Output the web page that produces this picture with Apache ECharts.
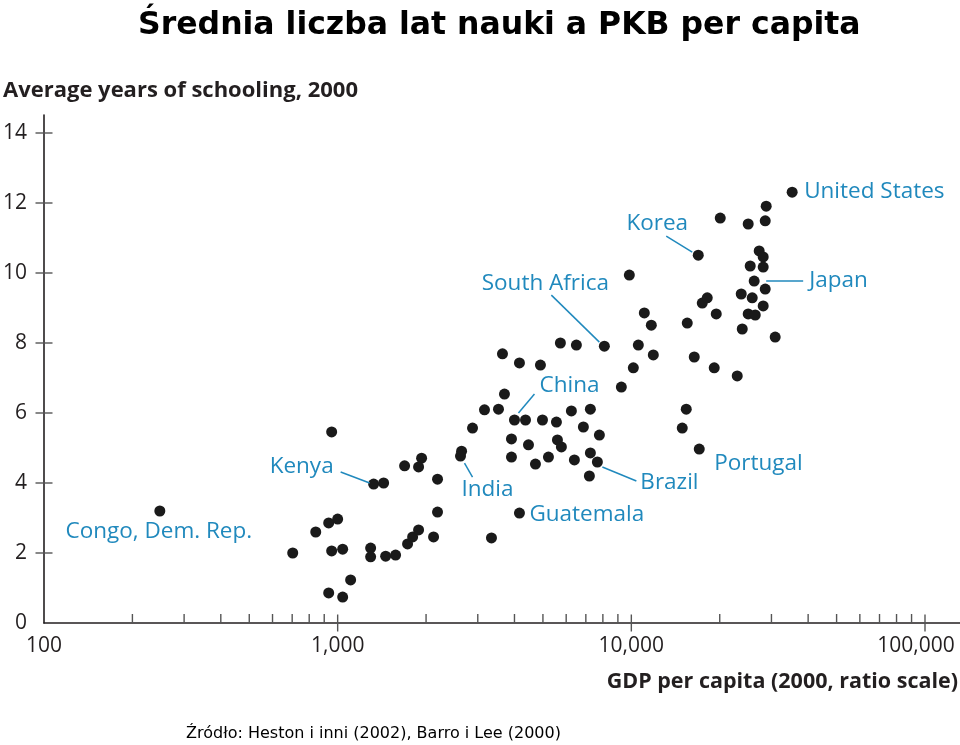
<!DOCTYPE html>
<html>
<head>
<meta charset="utf-8">
<script src="https://cdn.jsdelivr.net/npm/echarts@6/dist/echarts.min.js"></script>
<style>
html,body{margin:0;padding:0;background:#fff;}
#c{width:960px;height:745px;}
</style>
</head>
<body>
<div id="c"></div>
<script>
// GDP per capita (2000, PPP $) and average years of schooling (2000)
const gdp = [248, 703, 842, 932, 1000, 954, 1040, 1295, 1295, 1457, 1575, 1107, 932, 1040,
  1730, 1800, 1886, 2121, 2188, 1326, 1434, 2188, 954, 1690, 1931, 1886, 2642, 2620, 2879,
  3162, 3529, 3698, 3641, 4159, 4903, 4159, 3340, 4000, 4361, 4982, 5558, 6250, 7253, 6866,
  7784, 3907, 4464, 5602, 5779, 3907, 4715, 5221, 6399, 7253, 7662, 7196, 5734, 6500, 8094,
  10564, 11880, 10158, 9247, 9845, 11071, 11696, 15503, 16378, 19154, 15382, 14907, 17032,
  16900, 17440, 18135, 19460, 20080, 22940, 23860, 23670, 25000, 25000, 26420, 25400, 25800,
  26200, 27250, 28120, 28120, 28120, 28570, 28570, 28790, 30890, 35290];
const schooling = [3.2, 2.0, 2.6, 2.86, 2.97, 2.06, 2.11, 2.14, 1.89, 1.91, 1.94, 1.23, 0.86, 0.74,
  2.26, 2.46, 2.66, 2.46, 3.17, 3.97, 4.0, 4.11, 5.46, 4.49, 4.71, 4.46, 4.91, 4.77, 5.57,
  6.09, 6.11, 6.54, 7.69, 7.43, 7.37, 3.14, 2.43, 5.8, 5.8, 5.8, 5.74, 6.06, 6.11, 5.6,
  5.37, 5.26, 5.09, 5.23, 5.03, 4.74, 4.54, 4.74, 4.66, 4.86, 4.6, 4.2, 8.0, 7.94, 7.91,
  7.94, 7.66, 7.29, 6.74, 9.94, 8.86, 8.51, 8.57, 7.6, 7.29, 6.11, 5.57, 4.97,
  10.51, 9.14, 9.29, 8.83, 11.57, 7.06, 8.4, 9.4, 11.4, 8.83, 8.8, 10.2, 9.29,
  9.77, 10.63, 10.46, 10.17, 9.06, 9.54, 11.49, 11.91, 8.17, 12.31];
// Named countries and the index of their point in the arrays above
const labelNames = ['Congo, Dem. Rep.', 'Kenya', 'India', 'Guatemala', 'China', 'Brazil',
  'South Africa', 'Portugal', 'Korea', 'Japan', 'United States'];
const labelIndex = [0, 19, 27, 35, 37, 54, 58, 71, 72, 85, 94];
// Axis tick values
const yTicks = [0, 2, 4, 6, 8, 10, 12, 14];
const xMajorTicks = [100, 1000, 10000, 100000];
const xTickLabels = ['100', '1,000', '10,000', '100,000'];
const xMinorTicks = [200, 300, 400, 500, 600, 700, 800, 900,
  2000, 3000, 4000, 5000, 6000, 7000, 8000, 9000,
  20000, 30000, 40000, 50000, 60000, 70000, 80000, 90000];

// Layout of annotation texts relative to their point (pixels): text offset, align, leader line
const annLayout = {
  'Congo, Dem. Rep.': {tx: -1, ty: 21, align: 'center'},
  'Kenya': {tx: -72, ty: -17, align: 'center', line: [-33, -12, -4, -1]},
  'India': {tx: 27, ty: 34, align: 'center', line: [4, 7, 12, 21]},
  'Guatemala': {tx: 10, ty: 1, align: 'left'},
  'China': {tx: 55, ty: -34, align: 'center', line: [4, -7, 20, -26]},
  'Brazil': {tx: 43, ty: 21, align: 'left', line: [5, 5, 39, 19]},
  'South Africa': {tx: -59, ty: -63, align: 'center', line: [-53, -51, -5, -4]},
  'Portugal': {tx: 15, ty: 15, align: 'left'},
  'Korea': {tx: -41, ty: -32, align: 'center', line: [-32, -19, -6, -3]},
  'Japan': {tx: 55, ty: 0, align: 'left', line: [12, 0, 49, 0]},
  'United States': {tx: 12, ty: -1, align: 'left'}
};

const BLUE = '#2089bd';
const INK = '#231f20';
const FONT = '"Open Sans", "Noto Sans", sans-serif';

const points = gdp.map((g, i) => [g, schooling[i]]);
const annData = labelNames.map((n, k) => [gdp[labelIndex[k]], schooling[labelIndex[k]], k]);

const chart = echarts.init(document.getElementById('c'), null, {renderer: 'canvas'});

const option = {
  backgroundColor: '#fff',
  animation: false,
  title: {
    text: 'Średnia liczba lat nauki a PKB per capita',
    left: 133, top: 5,
    textStyle: {fontFamily: 'DejaVu Sans', fontWeight: 'bold', fontSize: 31.5, color: '#000'}
  },
  graphic: [
    {type: 'text', left: 3, top: 80,
      style: {text: 'Average years of schooling, 2000', font: 'bold 22px "Open Sans"', fill: INK}},
    {type: 'text', right: 2, top: 671,
      style: {text: 'GDP per capita (2000, ratio scale)', font: 'bold 21.5px "Open Sans"', fill: INK}},
    {type: 'text', left: 186, top: 726,
      style: {text: 'Źródło: Heston i inni (2002), Barro i Lee (2000)', font: '16px "DejaVu Sans"', fill: '#000'}}
  ],
  grid: [
    {left: 44, right: 35, top: 133, bottom: 122, outerBoundsMode: 'none', containLabel: false},
    {left: 44, right: 0, top: 115, bottom: 122, outerBoundsMode: 'none', containLabel: false}
  ],
  xAxis: [
    {type: 'log', logBase: 10, min: 100, max: 100000, gridIndex: 0,
      axisLine: {show: false}, axisTick: {show: false}, splitLine: {show: false},
      axisLabel: {margin: 13, fontSize: 21, color: INK, fontFamily: FONT, hideOverlap: false,
        formatter: v => {
          const i = xMajorTicks.indexOf(Math.round(v));
          if (i < 0) return '';
          return i === xMajorTicks.length - 1 ? '{last|' + xTickLabels[i] + '}' : xTickLabels[i];
        },
        rich: {last: {fontSize: 21, color: INK, fontFamily: FONT, padding: [0, 18, 0, 0]}}}},
    {type: 'value', gridIndex: 1, min: 0, max: 1,
      axisLine: {show: true, lineStyle: {color: INK, width: 1.6}},
      axisTick: {show: false}, axisLabel: {show: false}, splitLine: {show: false}}
  ],
  yAxis: [
    {type: 'value', min: 0, max: 14, interval: 2, gridIndex: 0,
      axisLine: {show: false}, axisTick: {show: false}, splitLine: {show: false},
      axisLabel: {margin: 17, fontSize: 21, color: INK, fontFamily: FONT}},
    {type: 'value', gridIndex: 1, min: 0, max: 1,
      axisLine: {show: true, lineStyle: {color: INK, width: 1.6}},
      axisTick: {show: false}, axisLabel: {show: false}, splitLine: {show: false}}
  ],
  series: [
    // y-axis ticks (cross the axis line)
    {type: 'scatter', xAxisIndex: 0, yAxisIndex: 0, silent: true, clip: false,
      data: yTicks.filter(v => v > 0).map(v => [100, v]),
      symbol: 'rect', symbolSize: [17, 1.4], itemStyle: {color: '#555', opacity: 1}, z: 1},
    // x major ticks
    {type: 'scatter', xAxisIndex: 0, yAxisIndex: 0, silent: true, clip: false,
      data: xMajorTicks.filter(v => v > 100).map(v => [v, 0]),
      symbol: 'rect', symbolSize: [1.4, 17], itemStyle: {color: '#555', opacity: 1}, z: 1},
    // x minor ticks (upward)
    {type: 'scatter', xAxisIndex: 0, yAxisIndex: 0, silent: true, clip: false,
      data: xMinorTicks.map(v => [v, 0]),
      symbol: 'rect', symbolSize: [1.4, 9], symbolOffset: [0, -4.5], itemStyle: {color: '#555', opacity: 1}, z: 1},
    // countries
    {type: 'scatter', xAxisIndex: 0, yAxisIndex: 0, clip: false,
      data: points, symbol: 'circle', symbolSize: 11,
      itemStyle: {color: '#1a1a1a', opacity: 1}, z: 3},
    // annotations
    {type: 'custom', xAxisIndex: 0, yAxisIndex: 0, silent: true, z: 4,
      data: annData,
      renderItem: (params, api) => {
        const p = api.coord([api.value(0), api.value(1)]);
        const name = labelNames[api.value(2)];
        const L = annLayout[name];
        const children = [{
          type: 'text',
          style: {text: name, x: p[0] + L.tx, y: p[1] + L.ty, align: L.align, verticalAlign: 'middle',
            font: '22.5px "Open Sans"', fill: BLUE}
        }];
        if (L.line) {
          children.push({type: 'line',
            shape: {x1: p[0] + L.line[0], y1: p[1] + L.line[1], x2: p[0] + L.line[2], y2: p[1] + L.line[3]},
            style: {stroke: BLUE, lineWidth: 1.5}});
        }
        return {type: 'group', children};
      }}
  ]
};
chart.setOption(option);
</script>
</body>
</html>
